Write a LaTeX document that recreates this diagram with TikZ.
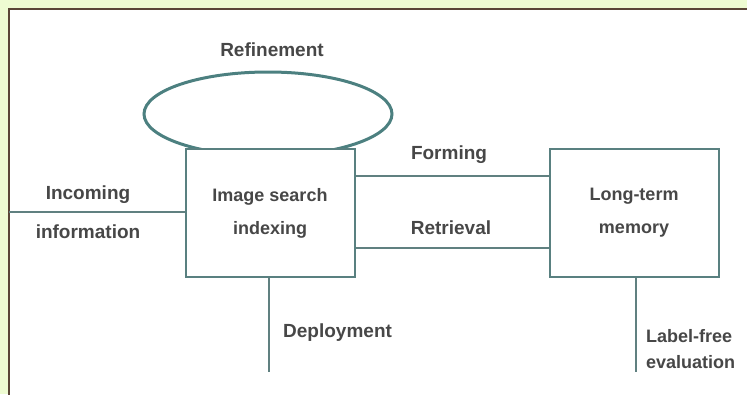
\documentclass[tikz,border=0pt]{standalone}
\usepackage{fontspec}
\setmainfont{Liberation Sans}
\usetikzlibrary{shapes.geometric}
\begin{document}
\begin{tikzpicture}[x=1pt,y=-1pt,
  lbl/.style={font=\fontsize{19}{30}\selectfont\bfseries, text=black!72, inner sep=0pt},
  boxstyle/.style={draw=gray!70!teal, line width=2pt, fill=white, minimum width=169pt, minimum height=128pt, align=center, font=\fontsize{18}{33}\selectfont\bfseries, text=black!72},
  conn/.style={draw=gray!75!teal, line width=2pt}]
\useasboundingbox (0,0) rectangle (747,394);
\fill[fill={rgb,255:red,238;green,252;blue,210}] (0,0) rectangle (747,394);
\fill[white] (9,9) rectangle (760,410);
\draw[draw={rgb,255:red,90;green,70;blue,55}, line width=1.2pt] (9,400) -- (9,9) -- (760,9);
% ellipse loop
\node[draw=gray!60!teal, line width=3pt, ellipse, minimum width=248pt, minimum height=84pt, inner sep=0pt] (loop) at (268,114) {};
\node[lbl] (looplbl) at (272,50) {Refinement};
% boxes
\node[boxstyle] (isi) at (270,213) {Image search\\indexing};
\node[boxstyle] (ltm) at (634,213) {Long-term\\memory};
% connectors
\coordinate (inL) at (9,212);
\draw[conn] (inL) -- (isi.west |- inL);
\node[lbl, align=center, font=\fontsize{19}{39}\selectfont\bfseries] (inlbl) at (88,212) {Incoming\\information};
\draw[conn] (isi.east |- 0,176) -- (ltm.west |- 0,176);
\node[lbl] (fw) at (449,155) {Forming};
\draw[conn] (isi.east |- 0,248) -- (ltm.west |- 0,248);
\node[lbl] (bw) at (451,228) {Retrieval};
\coordinate (d1) at (269,372);
\draw[conn] (isi.south -| d1) -- (d1);
\node[lbl, anchor=west] (dep) at (283,333) {Deployment};
\coordinate (d2) at (636,372);
\draw[conn] (ltm.south -| d2) -- (d2);
\node[lbl, anchor=west, align=left, font=\fontsize{18}{26}\selectfont\bfseries] (lab) at (646,349) {Label-free\\evaluation};
\end{tikzpicture}
\end{document}
